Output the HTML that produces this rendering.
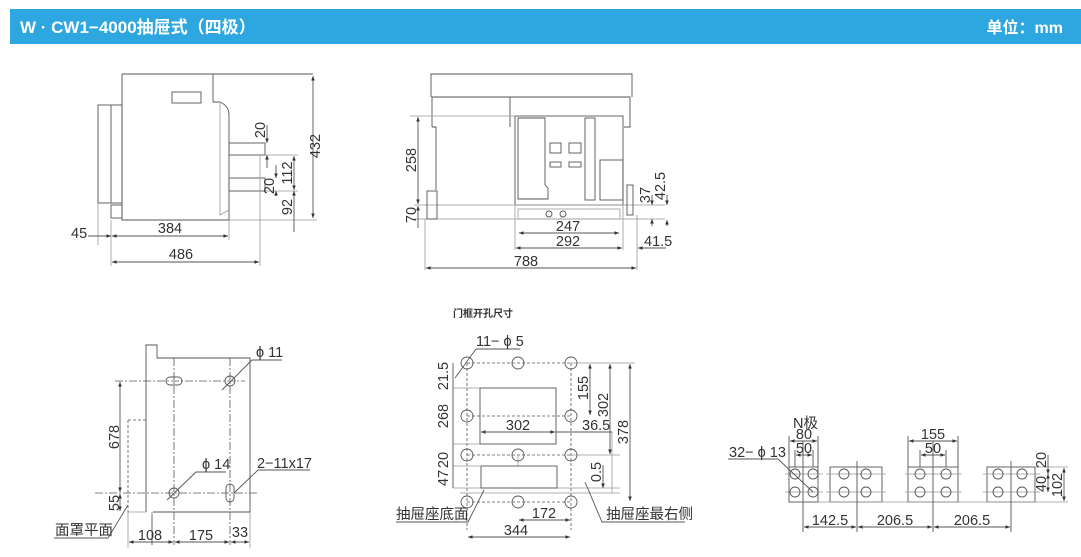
<!DOCTYPE html>
<html><head><meta charset="utf-8"><style>
body{margin:0;background:#fff;width:1081px;height:557px;overflow:hidden}
svg{display:block}
text{font-family:"Liberation Sans","Noto Sans CJK SC",sans-serif;fill:#333;font-size:14.5px}
.l{stroke:#555;stroke-width:0.9;fill:none}
.g{stroke:#999;stroke-width:0.8;fill:none}
.d{stroke:#555;stroke-width:0.8;fill:none;stroke-dasharray:3,2}
.dd{stroke:#555;stroke-width:0.8;fill:none;stroke-dasharray:8,2,2,2}
</style></head><body>
<svg width="1081" height="557" viewBox="0 0 1081 557">
<defs><marker id="a" viewBox="0 0 10 10" refX="10" refY="5" markerWidth="7" markerHeight="5" orient="auto-start-reverse"><path d="M0,1L10,5L0,9z" fill="#333"/></marker></defs>
<rect x="10" y="9" width="1071" height="35" fill="#2ea7e0"/>
<text x="20" y="33" style="fill:#fff;font-size:17px;font-weight:bold">W · CW1−4000抽屉式（四极）</text>
<text x="1063" y="33" text-anchor="end" style="fill:#fff;font-size:16px;font-weight:bold">单位：mm</text>

<!-- Panel 1 -->
<g>
<path class="l" d="M122,74H313M122,74V220H229M213,74V102H220Q229,106 229,115V220"/>
<path class="g" d="M220,102V215L229,210"/>
<rect class="l" x="98" y="105" width="24" height="98"/><line class="l" x1="111" y1="105" x2="111" y2="203"/>
<rect class="l" x="111" y="205" width="11" height="13"/><path class="g" d="M98,203V245"/>
<rect class="l" x="172" y="92" width="29" height="11"/>
<rect class="l" x="229" y="143" width="36" height="12"/><rect class="l" x="229" y="178" width="36" height="13"/>
<path class="g" d="M265,155H298M265,191H298M229,220H317M260,155V266M111,220V266M229,220V240"/>
<line class="l" x1="313" y1="76" x2="313" y2="218" marker-start="url(#a)" marker-end="url(#a)"/>
<text transform="translate(320,146) rotate(-90)" text-anchor="middle">432</text>
<line class="l" x1="267" y1="125" x2="267" y2="143" marker-end="url(#a)"/><line class="l" x1="267" y1="155" x2="267" y2="168" marker-start="url(#a)"/>
<text transform="translate(265,130) rotate(-90)" text-anchor="middle">20</text>
<line class="l" x1="276" y1="165" x2="276" y2="178" marker-end="url(#a)"/><line class="l" x1="276" y1="191" x2="276" y2="196" marker-start="url(#a)"/>
<text transform="translate(274,186) rotate(-90)" text-anchor="middle">20</text>
<line class="l" x1="294" y1="156" x2="294" y2="190" marker-start="url(#a)" marker-end="url(#a)"/>
<text transform="translate(292,173) rotate(-90)" text-anchor="middle">112</text>
<line class="l" x1="294" y1="191" x2="294" y2="232" marker-start="url(#a)"/>
<text transform="translate(292,207) rotate(-90)" text-anchor="middle">92</text>
<line class="l" x1="88" y1="236" x2="111" y2="236" marker-end="url(#a)"/>
<text x="71" y="238">45</text>
<line class="l" x1="112" y1="236" x2="228" y2="236" marker-start="url(#a)" marker-end="url(#a)"/>
<text x="170" y="233" text-anchor="middle">384</text>
<line class="l" x1="112" y1="262" x2="259" y2="262" marker-start="url(#a)" marker-end="url(#a)"/>
<text x="181" y="259" text-anchor="middle">486</text>
</g>

<!-- Panel 2 -->
<g>
<path class="l" d="M431,97V74H632V97M432,127V97H630V127H624M432,127H436V190M630,97V127M510,97V127"/>
<rect class="l" x="515" y="116" width="108" height="89"/>
<path class="l" d="M518,118H545V185L548,188V199H518z"/>
<rect class="l" x="585" y="118" width="10" height="82"/>
<rect class="l" x="550" y="143" width="11" height="10"/><rect class="l" x="569" y="143" width="12" height="10"/>
<rect class="l" x="550" y="162" width="11" height="5"/><rect class="l" x="569" y="162" width="12" height="5"/>
<rect class="l" x="600" y="160" width="23" height="40"/>
<rect class="g" x="518" y="209" width="102" height="10"/>
<circle class="l" cx="549" cy="214" r="3"/><circle class="l" cx="563" cy="214" r="3"/>
<path class="g" d="M414,205H665M414,219H665"/>
<rect class="l" x="427" y="191" width="10" height="28"/><rect class="l" x="627" y="185" width="6" height="30"/>
<path class="g" d="M425,219V270M637,215V270M515,205V250M623,205V250M410,116H515"/>
<line class="l" x1="418" y1="117" x2="418" y2="204" marker-start="url(#a)" marker-end="url(#a)"/>
<text transform="translate(416,160) rotate(-90)" text-anchor="middle">258</text>
<line class="l" x1="418" y1="206" x2="418" y2="228" marker-start="url(#a)"/>
<text transform="translate(416,215) rotate(-90)" text-anchor="middle">70</text>
<line class="l" x1="519" y1="233" x2="619" y2="233" marker-start="url(#a)" marker-end="url(#a)"/>
<text x="568" y="231" text-anchor="middle">247</text>
<line class="l" x1="516" y1="248" x2="622" y2="248" marker-start="url(#a)" marker-end="url(#a)"/>
<text x="568" y="246" text-anchor="middle">292</text>
<line class="l" x1="666" y1="248" x2="638" y2="248" marker-end="url(#a)"/>
<text x="644" y="246">41.5</text>
<line class="l" x1="426" y1="268" x2="636" y2="268" marker-start="url(#a)" marker-end="url(#a)"/>
<text x="526" y="266" text-anchor="middle">788</text>
<line class="l" x1="652" y1="195" x2="652" y2="205" marker-end="url(#a)"/><line class="l" x1="652" y1="219" x2="652" y2="226" marker-start="url(#a)"/>
<text transform="translate(650,195) rotate(-90)" text-anchor="middle">37</text>
<line class="l" x1="667" y1="195" x2="667" y2="205" marker-end="url(#a)"/><line class="l" x1="667" y1="220" x2="667" y2="226" marker-start="url(#a)"/>
<text transform="translate(665,186) rotate(-90)" text-anchor="middle">42.5</text>
</g>

<!-- Panel 3 -->
<g>
<path class="l" d="M146,512V345H157V358H250V512H153M152,512V545"/>
<path class="g" d="M128,512H146M152,512V515M250,512V548M128,512V548"/>
<path class="dd" d="M174,358V545M230,358V545M115,381H245M95,493H258"/>
<path class="d" d="M128,420H146M128,420V512"/>
<rect class="l" x="166" y="377" width="16" height="8" rx="4"/>
<circle class="l" cx="230" cy="381" r="5"/><circle class="l" cx="174" cy="493" r="5"/>
<rect class="l" x="226" y="484" width="8" height="18" rx="4"/>
<path class="l" d="M282,360H252L222,390"/><text x="256" y="357">ϕ 11</text>
<path class="l" d="M226,472H196L167,500"/><text x="202" y="469">ϕ 14</text>
<path class="l" d="M310,470H258L234,493"/><text x="257" y="468">2−11x17</text>
<line class="l" x1="120" y1="382" x2="120" y2="492" marker-start="url(#a)" marker-end="url(#a)"/>
<text transform="translate(119,437) rotate(-90)" text-anchor="middle">678</text>
<line class="l" x1="120" y1="494" x2="120" y2="511" marker-start="url(#a)" marker-end="url(#a)"/>
<text transform="translate(119,503) rotate(-90)" text-anchor="middle">55</text>
<path class="l" d="M54,538H108L128,505"/><text x="55" y="535">面罩平面</text>
<line class="l" x1="129" y1="542" x2="173" y2="542" marker-start="url(#a)" marker-end="url(#a)"/>
<line class="l" x1="175" y1="542" x2="229" y2="542" marker-start="url(#a)" marker-end="url(#a)"/>
<line class="l" x1="231" y1="542" x2="249" y2="542" marker-start="url(#a)" marker-end="url(#a)"/>
<text x="150" y="540" text-anchor="middle">108</text><text x="201" y="540" text-anchor="middle">175</text><text x="240" y="537" text-anchor="middle">33</text>
</g>

<!-- Panel 4 -->
<g>
<text x="453" y="317" style="font-size:10px;font-weight:bold">门框开孔尺寸</text>
<path class="d" d="M467,363H571M467,416H571M467,455H571M467,502H571M467,363V530M571,363V530"/>
<path class="g" d="M571,363H635M571,455H620M453,388H480M453,444H480M453,466H480M453,488H620M460,493H620M518,455V466M612,432V493"/>
<rect class="l" x="480" y="388" width="76" height="56"/>
<rect class="l" x="481" y="466" width="76" height="22"/>
<g class="l">
<circle cx="467" cy="363" r="6"/><circle cx="518" cy="363" r="6"/><circle cx="571" cy="363" r="6"/>
<circle cx="467" cy="416" r="6"/><circle cx="571" cy="416" r="6"/>
<circle cx="467" cy="455" r="6"/><circle cx="518" cy="455" r="6"/><circle cx="571" cy="455" r="6"/>
<circle cx="467" cy="502" r="6"/><circle cx="518" cy="502" r="6"/><circle cx="571" cy="502" r="6"/>
</g>
<path class="l" d="M476,349H520M476,349L455,378"/><text x="476" y="346">11− ϕ 5</text>
<line class="l" x1="453" y1="363" x2="453" y2="488"/>
<text transform="translate(448,376) rotate(-90)" text-anchor="middle">21.5</text>
<text transform="translate(448,416) rotate(-90)" text-anchor="middle">268</text>
<text transform="translate(448,460) rotate(-90)" text-anchor="middle">20</text>
<text transform="translate(448,478) rotate(-90)" text-anchor="middle">47</text>
<line class="l" x1="590" y1="364" x2="590" y2="415" marker-start="url(#a)" marker-end="url(#a)"/>
<text transform="translate(588,388) rotate(-90)" text-anchor="middle">155</text>
<line class="l" x1="610" y1="364" x2="610" y2="454" marker-start="url(#a)" marker-end="url(#a)"/>
<text transform="translate(608,405) rotate(-90)" text-anchor="middle">302</text>
<line class="l" x1="630" y1="364" x2="630" y2="501" marker-start="url(#a)" marker-end="url(#a)"/>
<text transform="translate(628,432) rotate(-90)" text-anchor="middle">378</text>
<line class="l" x1="481" y1="432" x2="555" y2="432" marker-start="url(#a)" marker-end="url(#a)"/>
<text x="518" y="430" text-anchor="middle">302</text>
<line class="l" x1="556" y1="432" x2="612" y2="432"/><text x="582" y="430">36.5</text>
<line class="l" x1="603" y1="465" x2="603" y2="488" marker-end="url(#a)"/>
<text transform="translate(601,472) rotate(-90)" text-anchor="middle">0.5</text>
<line class="l" x1="519" y1="520" x2="570" y2="520" marker-start="url(#a)" marker-end="url(#a)"/>
<text x="544" y="518" text-anchor="middle">172</text>
<line class="l" x1="468" y1="537" x2="570" y2="537" marker-start="url(#a)" marker-end="url(#a)"/>
<text x="516" y="535" text-anchor="middle">344</text>
<path class="l" d="M396,522H468L484,490"/><text x="396" y="519">抽屉座底面</text>
<path class="l" d="M685,522H602L585,482"/><text x="606" y="519">抽屉座最右侧</text>
</g>

<!-- Panel 5 -->
<g>
<rect class="l" x="789" y="467" width="29" height="35"/><rect class="l" x="830" y="467" width="52" height="35"/>
<rect class="l" x="908" y="467" width="50" height="35"/><rect class="l" x="987" y="467" width="48" height="35"/>
<path class="g" d="M818,502H1035M785,474H823M785,492H823M826,474H886M826,492H886M905,474H962M905,492H962M983,474H1040M983,492H1040M1035,467H1068M1035,502H1068"/>
<path class="l" d="M803,441V532M857,461V532M933,441V532M1011,461V532M789,436V467M818,436V467M795,450V467M813,450V467M908,436V467M958,436V467M920,450V467M946,450V467"/>
<g class="l">
<circle cx="795" cy="474" r="5"/><circle cx="813" cy="474" r="5"/><circle cx="795" cy="492" r="5"/><circle cx="813" cy="492" r="5"/>
<circle cx="844" cy="474" r="5"/><circle cx="866" cy="474" r="5"/><circle cx="844" cy="492" r="5"/><circle cx="866" cy="492" r="5"/>
<circle cx="920" cy="474" r="5"/><circle cx="946" cy="474" r="5"/><circle cx="920" cy="492" r="5"/><circle cx="946" cy="492" r="5"/>
<circle cx="998" cy="474" r="5"/><circle cx="1022" cy="474" r="5"/><circle cx="998" cy="492" r="5"/><circle cx="1022" cy="492" r="5"/>
</g>
<text x="793" y="428">N极</text>
<line class="l" x1="790" y1="441" x2="817" y2="441" marker-start="url(#a)" marker-end="url(#a)"/><text x="804" y="439" text-anchor="middle">80</text>
<line class="l" x1="796" y1="455" x2="812" y2="455" marker-start="url(#a)" marker-end="url(#a)"/><text x="804" y="453" text-anchor="middle">50</text>
<line class="l" x1="909" y1="441" x2="957" y2="441" marker-start="url(#a)" marker-end="url(#a)"/><text x="933" y="439" text-anchor="middle">155</text>
<line class="l" x1="921" y1="455" x2="945" y2="455" marker-start="url(#a)" marker-end="url(#a)"/><text x="933" y="453" text-anchor="middle">50</text>
<path class="l" d="M728,459H778L813,492"/><text x="729" y="457">32− ϕ 13</text>
<line class="l" x1="804" y1="527" x2="856" y2="527" marker-start="url(#a)" marker-end="url(#a)"/><text x="830" y="525" text-anchor="middle">142.5</text>
<line class="l" x1="858" y1="527" x2="932" y2="527" marker-start="url(#a)" marker-end="url(#a)"/><text x="895" y="525" text-anchor="middle">206.5</text>
<line class="l" x1="934" y1="527" x2="1010" y2="527" marker-start="url(#a)" marker-end="url(#a)"/><text x="972" y="525" text-anchor="middle">206.5</text>
<line class="l" x1="1048" y1="455" x2="1048" y2="474" marker-end="url(#a)"/><line class="l" x1="1048" y1="474" x2="1048" y2="492" marker-start="url(#a)" marker-end="url(#a)"/>
<text transform="translate(1046,460) rotate(-90)" text-anchor="middle">20</text>
<text transform="translate(1046,484) rotate(-90)" text-anchor="middle">40</text>
<line class="l" x1="1064" y1="468" x2="1064" y2="501" marker-start="url(#a)" marker-end="url(#a)"/>
<text transform="translate(1062,485) rotate(-90)" text-anchor="middle">102</text>
</g>
</svg>
</body></html>
